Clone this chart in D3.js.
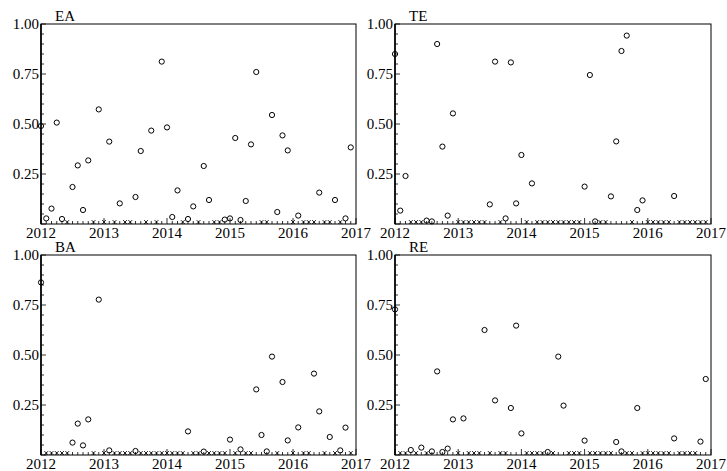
<!DOCTYPE html>
<html>
<head>
<meta charset="utf-8">
<script src="https://cdn.jsdelivr.net/npm/d3@7"></script>
<style>
  body { margin: 0; background: #fff; }
</style>
</head>
<body>
<div id="chart"></div>
<script>
// monthly values Jan 2012 .. Dec 2016, 0 = plotted as an x on the axis
const EA = [0.49, 0.028, 0.077, 0.507, 0.025, 0, 0.185, 0.293, 0.07, 0.318, 0, 0.573,
            0, 0.412, 0, 0.103, 0, 0, 0.135, 0.365, 0, 0.467, 0, 0.812,
            0.483, 0.035, 0.168, 0, 0.025, 0.088, 0, 0.29, 0.12, 0, 0, 0.022,
            0.028, 0.43, 0.02, 0.115, 0.398, 0.76, 0, 0, 0.545, 0.06, 0.443, 0.368,
            0, 0.042, 0, 0, 0, 0.157, 0, 0, 0.12, 0, 0.028, 0.383];
const TE = [0.85, 0.067, 0.24, 0, 0, 0, 0.017, 0.013, 0.9, 0.387, 0.042, 0.553,
            0, 0, 0, 0, 0, 0, 0.098, 0.812, 0, 0.028, 0.808, 0.103,
            0.345, 0, 0.203, 0, 0, 0, 0, 0, 0, 0, 0, 0,
            0.187, 0.745, 0.013, 0, 0, 0.138, 0.413, 0.865, 0.942, 0, 0.07, 0.118,
            0, 0, 0, 0, 0, 0.14, 0, 0, 0, 0, 0, 0];
const BA = [0.863, 0, 0, 0, 0, 0, 0.062, 0.157, 0.048, 0.178, 0, 0.777,
            0, 0.023, 0, 0, 0, 0, 0.02, 0, 0, 0, 0, 0,
            0, 0, 0, 0, 0.118, 0, 0, 0.017, 0, 0, 0, 0,
            0.077, 0, 0.028, 0, 0, 0.328, 0.1, 0.018, 0.492, 0, 0.365, 0.073,
            0, 0.138, 0, 0, 0.407, 0.218, 0, 0.09, 0, 0.023, 0.137, 0];
const RE = [0.728, 0, 0, 0.025, 0, 0.037, 0, 0.018, 0.418, 0.015, 0.032, 0.178,
            0, 0.183, 0, 0, 0, 0.625, 0, 0.273, 0, 0, 0.235, 0.647,
            0.108, 0, 0, 0, 0, 0.015, 0, 0.492, 0.247, 0, 0, 0,
            0.072, 0, 0, 0, 0, 0, 0.065, 0.018, 0, 0, 0.235, 0,
            0, 0, 0, 0, 0, 0.083, 0, 0, 0, 0, 0.067, 0.38];

const years = [2012, 2013, 2014, 2015, 2016, 2017];
const yTicks = [0.25, 0.5, 0.75, 1.0];

const panels = [
  { name: "EA", values: EA, left: 41, right: 356, top: 24, bottom: 224 },
  { name: "TE", values: TE, left: 395, right: 711, top: 24, bottom: 224 },
  { name: "BA", values: BA, left: 41, right: 356, top: 255, bottom: 455 },
  { name: "RE", values: RE, left: 395, right: 711, top: 255, bottom: 455 }
];

const svg = d3.select("#chart").append("svg")
  .attr("width", 727)
  .attr("height", 471)
  .style("font-family", "'Liberation Serif', 'Times New Roman', serif")
  .style("font-size", "15px");

panels.forEach(p => {
  const x = d3.scaleLinear().domain([2012, 2017]).range([p.left, p.right]);
  const y = d3.scaleLinear().domain([0, 1]).range([p.bottom, p.top]);
  const g = svg.append("g");

  const pts = p.values.map((v, i) => ({ t: 2012 + i / 12, v: v }));

  // monthly ticks on bottom axis, pointing in
  g.append("g").selectAll("line")
    .data(d3.range(0, 61))
    .join("line")
    .attr("x1", i => x(2012 + i / 12)).attr("x2", i => x(2012 + i / 12))
    .attr("y1", p.bottom).attr("y2", i => p.bottom - (i % 12 === 0 ? 6 : 3))
    .attr("stroke", "#000").attr("stroke-width", 0.8);

  // y ticks every 0.05, major every 0.25
  g.append("g").selectAll("line")
    .data(d3.range(0, 21))
    .join("line")
    .attr("y1", i => y(i / 20)).attr("y2", i => y(i / 20))
    .attr("x1", p.left).attr("x2", i => p.left + (i % 5 === 0 ? 5 : 3))
    .attr("stroke", "#000").attr("stroke-width", 0.8);

  g.append("rect")
    .attr("x", p.left).attr("y", p.top)
    .attr("width", p.right - p.left).attr("height", p.bottom - p.top)
    .attr("fill", "none").attr("stroke", "#000").attr("stroke-width", 1);
  g.append("line")
    .attr("x1", p.left).attr("x2", p.left)
    .attr("y1", p.top).attr("y2", p.bottom)
    .attr("stroke", "#000").attr("stroke-width", 1.6);

  g.append("g").selectAll("text")
    .data(yTicks)
    .join("text")
    .attr("x", p.left - 2)
    .attr("y", d => y(d))
    .attr("dy", "0.33em")
    .attr("text-anchor", "end")
    .text(d => d3.format(".2f")(d));

  g.append("g").selectAll("text")
    .data(years)
    .join("text")
    .attr("x", d => x(d))
    .attr("y", p.bottom + 14)
    .attr("text-anchor", "middle")
    .text(d => d);

  g.append("text")
    .attr("x", p.left + 14)
    .attr("y", p.top - 3)
    .text(p.name);

  // zero months as x marks
  const s = 2;
  g.append("g").selectAll("path")
    .data(pts.filter(d => d.v === 0))
    .join("path")
    .attr("d", d => {
      const cx = x(d.t), cy = y(0) - 2;
      return `M${cx - s},${cy - s}L${cx + s},${cy + s}M${cx - s},${cy + s}L${cx + s},${cy - s}`;
    })
    .attr("stroke", "#000").attr("stroke-width", 0.8);

  g.append("g").selectAll("circle")
    .data(pts.filter(d => d.v > 0))
    .join("circle")
    .attr("cx", d => x(d.t))
    .attr("cy", d => y(d.v))
    .attr("r", 2.6)
    .attr("fill", "none")
    .attr("stroke", "#000")
    .attr("stroke-width", 1);
});
</script>
</body>
</html>
